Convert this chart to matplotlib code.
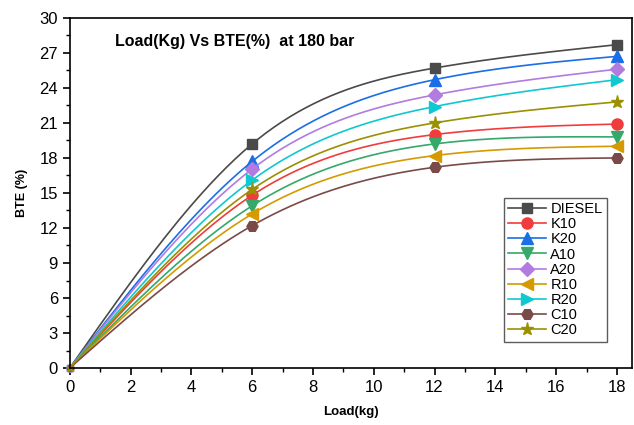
import numpy as np
import matplotlib.pyplot as plt

plt.rcParams['font.family'] = ['Liberation Sans', 'DejaVu Sans']

# load points (kg)
load = [0, 6, 12, 18]

# BTE (%) per fuel blend
diesel = [0, 19.2, 25.7, 27.7]
k10 = [0, 14.8, 20.0, 20.9]
k20 = [0, 17.7, 24.7, 26.7]
a10 = [0, 13.9, 19.2, 19.8]
a20 = [0, 17.05, 23.4, 25.6]
r10 = [0, 13.2, 18.2, 19.0]
r20 = [0, 16.1, 22.4, 24.7]
c10 = [0, 12.2, 17.2, 18.0]
c20 = [0, 15.3, 21.0, 22.8]

names = ['DIESEL', 'K10', 'K20', 'A10', 'A20', 'R10', 'R20', 'C10', 'C20']
series = [diesel, k10, k20, a10, a20, r10, r20, c10, c20]
colors = ['#4a4a4a', '#f03c3c', '#1a6ee6', '#35a86a', '#b27be0',
          '#d49a00', '#10c8d0', '#7a4a48', '#9a9000']
markers = ['s', 'o', '^', 'v', 'D', '<', '>', 'H', '*']
msizes = [7, 8, 8.5, 8.5, 7, 8.5, 8.5, 8, 9.5]


def natural_spline(x, y, xs):
    # plain natural cubic spline, small system solved directly
    x = np.asarray(x, float)
    y = np.asarray(y, float)
    n = len(x)
    h = np.diff(x)
    A = np.zeros((n, n))
    b = np.zeros(n)
    A[0, 0] = 1
    A[-1, -1] = 1
    for i in range(1, n - 1):
        A[i, i - 1] = h[i - 1]
        A[i, i] = 2 * (h[i - 1] + h[i])
        A[i, i + 1] = h[i]
        b[i] = 6 * ((y[i + 1] - y[i]) / h[i] - (y[i] - y[i - 1]) / h[i - 1])
    m = np.linalg.solve(A, b)
    out = np.empty_like(xs)
    for k, xv in enumerate(xs):
        i = min(np.searchsorted(x, xv, side='right') - 1, n - 2)
        t0 = x[i + 1] - xv
        t1 = xv - x[i]
        out[k] = (m[i] * t0**3 + m[i + 1] * t1**3) / (6 * h[i]) \
            + (y[i] / h[i] - m[i] * h[i] / 6) * t0 \
            + (y[i + 1] / h[i] - m[i + 1] * h[i] / 6) * t1
    return out


fig = plt.figure(figsize=(6.34, 4.25), dpi=100)
ax = fig.add_axes([0.110, 0.134, 0.887, 0.824])

xs = np.linspace(0, 18, 200)
for name, vals, c, mk, ms in zip(names, series, colors, markers, msizes):
    ys = natural_spline(load, vals, xs)
    ax.plot(xs, ys, color=c, lw=1.2)
    ax.plot(load[1:], vals[1:], ls='none', marker=mk, ms=ms, color=c)
    ax.plot(load[:1], vals[:1], ls='none', marker=mk, ms=4.5, color=c, clip_on=False)
    ax.plot([], [], color=c, lw=1.2, marker=mk, ms=ms, label=name)

ax.set_xlim(0, 18.5)
ax.set_ylim(0, 30)
ax.set_xticks(np.arange(0, 19, 2))
ax.set_xticks(np.arange(1, 19, 2), minor=True)
ax.set_yticks(np.arange(0, 31, 3))
ax.set_yticks(np.arange(1.5, 30, 3), minor=True)
ax.tick_params(axis='both', which='major', direction='out', length=5, width=1.2, labelsize=12)
ax.tick_params(axis='both', which='minor', direction='out', length=3, width=1)
for s in ax.spines.values():
    s.set_linewidth(1.2)

ax.set_xlabel('Load(kg)', fontsize=9.5, fontweight='bold', labelpad=8)
ax.set_ylabel('BTE (%)', fontsize=9, fontweight='bold', labelpad=8)
ax.text(0.08, 0.932, 'Load(Kg) Vs BTE(%)  at 180 bar', transform=ax.transAxes,
        fontsize=11.5, fontweight='bold', va='center')

leg = ax.legend(loc='lower right', bbox_to_anchor=(0.955, 0.075), fontsize=10.5,
                frameon=True, fancybox=False, edgecolor='#333333',
                handlelength=2.6, labelspacing=0.08, borderpad=0.3,
                handletextpad=0.3, borderaxespad=0)
leg.get_frame().set_linewidth(1.0)

fig.savefig('out.png', dpi=100)
